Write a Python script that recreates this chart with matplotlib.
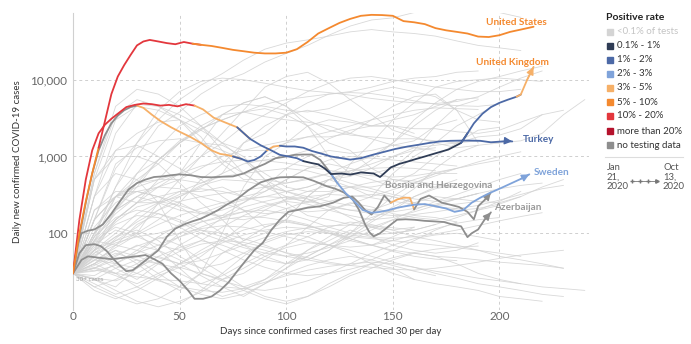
import numpy as np
import matplotlib
matplotlib.use("Agg")
import matplotlib.pyplot as plt
from matplotlib.patches import Rectangle
from matplotlib.lines import Line2D

plt.rcParams["font.family"] = ["Lato", "DejaVu Sans"]

# ---------------------------------------------------------------- categories
rate_labels = ["<0.1% of tests", "0.1% - 1%", "1% - 2%", "2% - 3%", "3% - 5%",
               "5% - 10%", "10% - 20%", "more than 20%", "no testing data"]
rate_colors = ["#d4d4d4", "#2f3c55", "#4c69a6", "#7fa3da", "#f6b068",
               "#f4892f", "#e3373d", "#b5122c", "#8e8e8e"]

# ---------------------------------------------------------------- highlighted countries
us_days = [0, 3, 6, 9, 12, 15, 18, 21, 24, 27, 30, 33, 36, 40, 44, 48, 52, 56, 60, 65,
           70, 75, 80, 85, 90, 95, 100, 105, 110, 115, 120, 125, 130, 135, 140, 145, 150,
           155, 160, 165, 170, 175, 180, 185, 190, 195, 200, 205, 210, 216]
us_cases = [30, 100, 260, 600, 1300, 2900, 6500, 11000, 15500, 21000, 28000, 31500, 33000,
            31500, 30000, 29000, 31000, 29500, 28500, 27500, 26000, 24500, 23500, 22500,
            22000, 22000, 22500, 25000, 31000, 40000, 47000, 55000, 62000, 68000, 70000,
            69500, 68000, 58000, 56000, 53000, 47000, 44000, 42000, 40000, 36500, 36000,
            38000, 42000, 45000, 49000]
us_rate = [(0, 5), (12, 6), (57, 5)]

uk_days = [0, 3, 6, 9, 12, 15, 18, 21, 25, 29, 33, 37, 41, 45, 49, 53, 57, 61, 66, 71, 77,
           83, 88, 93, 97, 101, 105, 108, 112, 115, 118, 121, 126, 130, 135, 141, 144, 147,
           149, 153, 157, 161, 165, 170, 176, 182, 185, 188, 192, 196, 200, 204, 208, 210,
           213, 216]
uk_cases = [30, 150, 500, 1200, 2000, 2600, 3100, 3600, 4400, 4700, 4900, 4800, 4600, 4700,
            4500, 4800, 4600, 4100, 3200, 2800, 2400, 1700, 1400, 1200, 1050, 1000, 950, 870,
            820, 790, 700, 590, 600, 580, 620, 600, 540, 640, 720, 800, 860, 930, 1000, 1100,
            1230, 1500, 2000, 2700, 3600, 4400, 5000, 5500, 6000, 6400, 10000, 14700]
uk_rate = [(0, 6), (57, 4), (80, 2), (108, 1), (183, 2), (209, 4)]

turkey_days = [0, 3, 6, 9, 12, 15, 18, 21, 24, 27, 30, 33, 37, 41, 46, 50, 55, 60, 65, 69,
               72, 75, 79, 82, 85, 88, 91, 94, 97, 100, 104, 108, 112, 116, 121, 126, 130,
               135, 141, 146, 151, 157, 162, 167, 172, 177, 182, 187, 191, 196, 200, 204, 206]
turkey_cases = [30, 90, 250, 600, 1200, 1900, 2700, 3400, 4000, 4400, 4600, 4300, 3500, 2900,
                2400, 2100, 1800, 1500, 1200, 1080, 1050, 1000, 930, 860, 900, 1000, 1200,
                1350, 1380, 1350, 1350, 1300, 1180, 1100, 1000, 950, 910, 950, 1060, 1150,
                1250, 1350, 1420, 1500, 1570, 1600, 1610, 1610, 1600, 1530, 1560, 1590, 1570]
turkey_rate = [(0, 8), (30, 4), (77, 2), (91, 4), (97, 2)]

sweden_days = [0, 2, 4, 7, 10, 14, 18, 22, 26, 30, 34, 38, 42, 46, 50, 55, 60, 65, 70, 75,
               80, 85, 90, 95, 100, 104, 108, 112, 116, 120, 124, 128, 132, 136, 140, 144,
               148, 152, 156, 160, 165, 170, 175, 179, 183, 187, 191, 195, 200, 205, 210, 214]
sweden_cases = [30, 70, 100, 108, 112, 130, 180, 260, 370, 450, 500, 540, 550, 570, 585, 570,
                540, 535, 545, 550, 600, 700, 800, 950, 1000, 1050, 1060, 1060, 900, 650, 450,
                330, 260, 200, 185, 190, 200, 215, 225, 235, 240, 225, 210, 190, 200, 250,
                290, 330, 380, 440, 510, 585]
sweden_rate = [(0, 8), (121, 3)]

bosnia_days = [0, 4, 7, 12, 18, 24, 30, 34, 38, 42, 46, 50, 54, 57, 61, 65, 69, 73, 77, 81,
               85, 89, 93, 97, 101, 105, 110, 116, 122, 127, 131, 134, 137, 140, 143, 146,
               149, 152, 155, 158, 160, 163, 167, 170, 173, 177, 181, 185, 188, 190, 193, 196]
bosnia_cases = [30, 45, 50, 48, 46, 48, 50, 52, 46, 40, 30, 24, 18, 14, 14, 15, 18, 23, 32, 44,
                60, 75, 110, 150, 190, 200, 215, 225, 250, 290, 300, 250, 200, 175, 220, 310,
                250, 275, 290, 290, 205, 280, 310, 280, 250, 235, 220, 190, 152, 225, 270, 340]
bosnia_rate = [(0, 8), (149, 4), (160, 8)]

azer_days = [0, 3, 6, 10, 13, 16, 19, 22, 25, 28, 32, 36, 40, 44, 48, 52, 56, 60, 64, 68,
             72, 77, 82, 88, 93, 97, 102, 108, 113, 119, 123, 127, 131, 134, 137, 139, 141,
             144, 148, 152, 156, 160, 165, 169, 174, 178, 182, 185, 187, 190, 193, 196]
azer_cases = [30, 55, 70, 72, 68, 58, 46, 38, 32, 33, 40, 49, 60, 90, 115, 130, 143, 155, 175,
              200, 235, 280, 360, 460, 510, 535, 540, 535, 480, 410, 380, 340, 280, 205, 130,
              103, 91, 100, 123, 150, 152, 150, 145, 143, 140, 130, 123, 89, 100, 112, 150, 187]
azer_rate = [(0, 8)]

# ---------------------------------------------------------------- all other countries (every 10 days)
other_days = list(range(0, 250, 10))
other_countries = [
    [30, 90, 400, 1000, 2500, 3800, 6500, 9500, 12000, 17000, 22000, 28000, 38000, 50000, 60000,
     64000, 75000, 90000, 93000, 85000, 75000, 65000],
    [30, 150, 700, 1500, 3000, 5500, 8500, 12000, 18000, 25000, 30000, 33000, 37000, 42000,
     45000, 42000, 40000, 37000, 32000, 28000, 26000, 24000],
    [30, 100, 400, 1500, 4000, 7000, 9500, 10500, 10000, 9000, 8000, 7200, 6800, 6300, 5700,
     5300, 5000, 4900, 5200, 6000, 8000, 10500, 13000],
    [30, 80, 200, 450, 900, 1600, 2300, 3000, 3800, 4800, 5500, 6000, 6500, 6800, 6600, 6000,
     5300, 4800, 4600, 4500, 4800],
    [30, 60, 200, 600, 1300, 2500, 3500, 4500, 4800, 4500, 4000, 3800, 4200, 5500, 7000, 8000,
     7000, 6000, 4000, 3000, 2800],
    [30, 300, 2000, 4800, 4500, 3500, 2500, 1500, 900, 500, 350, 280, 220, 200, 200, 250, 380,
     700, 1100, 1400, 1500, 1600, 2000, 3500, 5500],
    [30, 600, 4500, 7500, 6500, 4500, 2500, 1200, 600, 400, 300, 250, 300, 800, 1500, 3000,
     5000, 8000, 9500, 10000, 10500, 10000, 9500],
    [30, 600, 3500, 5500, 4500, 3000, 1500, 900, 600, 400, 350, 400, 500, 550, 700, 1000, 1300,
     1400, 1500, 1800, 1900, 2300, 3500],
    [30, 500, 3000, 4500, 4000, 3000, 1800, 800, 500, 500, 450, 500, 600, 800, 1000, 1500, 3000,
     5000, 7500, 9500, 11000, 13000, 15000],
    [30, 500, 1200, 2000, 2800, 3000, 2200, 1500, 1200, 1200, 1500, 2500, 3000, 2800, 2500,
     2500, 2300, 2300, 2100, 2000, 2200, 2800, 3500, 4000],
    [30, 60, 150, 250, 400, 600, 1000, 1500, 2500, 3500, 5000, 7000, 9000, 10500, 11000, 10000,
     9000, 8000, 7500, 7000, 7000, 7500],
    [30, 60, 80, 100, 150, 250, 500, 800, 1500, 2500, 3500, 5000, 6500, 7000, 8000, 9500, 10500,
     11000, 12500, 13000],
    [30, 80, 70, 100, 250, 500, 1000, 2000, 4000, 8000, 11000, 12500, 9000, 5500, 3500, 2200,
     1800, 1500, 1300, 1400],
    [30, 150, 300, 400, 500, 600, 1500, 3500, 5000, 6000, 4500, 3000, 2200, 1900, 1800, 1700,
     1700, 1600, 1500, 1600, 1500],
    [30, 150, 800, 1300, 1600, 1700, 1500, 1200, 900, 600, 400, 350, 350, 400, 400, 450, 600,
     1000, 1500, 2200, 2400],
    [30, 300, 1200, 1400, 1000, 700, 500, 300, 200, 120, 150, 300, 500, 400, 300, 600, 1000,
     1500, 2500, 3500, 5000],
    [30, 500, 1000, 1000, 800, 450, 250, 150, 80, 100, 150, 300, 500, 600, 900, 1500, 2500,
     4000, 5500],
    [30, 300, 600, 500, 250, 80, 30, 100, 400, 1000, 1500, 1800, 1800, 2000, 3000, 4500, 6000,
     6500, 4000, 1500],
    [30, 100, 200, 400, 900, 1500, 2300, 3000, 3800, 4200, 3500, 2500, 1500, 1200, 700, 500,
     450, 400, 400],
    [30, 150, 300, 500, 800, 1500, 2200, 3500, 5000, 6000, 4500, 2500, 1000, 600, 500, 400, 500,
     600, 600],
    [30, 80, 300, 600, 900, 1500, 2500, 3500, 3800, 3300, 3000, 2800, 2500, 2000, 1700, 1400,
     1300, 1200],
    [30, 200, 300, 250, 250, 300, 400, 600, 1500, 2000, 3500, 4000, 3500, 3000, 2500, 2500, 2000],
    [30, 100, 200, 300, 400, 500, 700, 1000, 1200, 1400, 1600, 1800, 2100, 2500, 3000, 3500,
     4000, 4300, 4200, 4100],
    [30, 100, 300, 450, 500, 500, 450, 600, 800, 900, 1000, 1200, 1700, 2200, 2500, 3000, 3500,
     4500, 5500, 5800],
    [30, 150, 300, 350, 300, 250, 180, 170, 250, 400, 700, 1000, 1200, 1100, 1200, 1400, 1600,
     2500, 3000],
    [30, 200, 350, 350, 300, 350, 350, 400, 300, 350, 500, 700, 800, 700, 600, 700, 1200, 2500,
     4500, 5500],
    [30, 80, 150, 250, 500, 1000, 1500, 1400, 1000, 500, 250, 170, 150, 130, 120, 110, 120],
    [30, 45, 60, 40, 25, 18, 30, 55, 80, 120, 150, 130, 100, 80, 70, 90, 120],
    [30, 25, 20, 35, 50, 40, 28, 20, 15, 22, 35, 60, 80, 110, 90, 70, 60, 55, 60, 75],
    [30, 60, 90, 110, 80, 50, 35, 25, 30, 45, 70, 120, 200, 250, 220, 180, 160, 150, 170, 200, 230],
    [30, 40, 70, 130, 180, 150, 110, 90, 70, 60, 50, 45, 60, 90, 140, 200, 300, 400, 500],
    [30, 20, 15, 12, 14, 20, 30, 25, 18, 14, 12, 15, 22, 30, 40, 35, 25],
    [30, 50, 35, 25, 40, 70, 100, 160, 220, 260, 300, 280, 220, 160, 120, 100, 110, 130, 160,
     200, 260, 350],
    [30, 70, 150, 250, 300, 220, 150, 100, 70, 50, 40, 45, 60, 100, 180, 300, 450, 600, 700,
     800, 900],
    [30, 35, 45, 55, 70, 90, 110, 100, 85, 70, 55, 45, 40, 38, 45, 60, 80, 110, 140],
    [30, 80, 120, 100, 60, 35, 20, 15, 18, 25, 40, 60, 90, 130, 160, 200, 250, 300, 280, 260,
     250, 300, 400, 500],
    [30, 25, 35, 45, 40, 30, 22, 28, 40, 55, 70, 90, 120, 140, 130, 110, 90, 80, 70, 60, 50, 45,
     40, 35],
    [30, 120, 250, 350, 400, 380, 300, 250, 200, 180, 190, 220, 260, 300, 320, 300, 250, 220,
     200, 210, 240, 300],
    [30, 40, 30, 20, 15, 12, 18, 30, 50, 80, 100, 90, 70, 55, 40, 30, 25, 22, 20, 18, 15, 14, 13],
    [30, 60, 100, 180, 250, 350, 450, 550, 600, 650, 700, 650, 550, 450, 380, 320, 280, 260,
     280, 330],
    [30, 45, 40, 55, 90, 130, 180, 230, 270, 300, 350, 400, 500, 650, 800, 1000, 1200, 1300],
    [30, 35, 28, 22, 30, 40, 55, 75, 95, 110, 120, 115, 100, 90, 85, 80, 75, 70, 65, 60, 55, 50],
    [30, 90, 160, 200, 180, 140, 100, 80, 65, 55, 50, 55, 65, 80, 110, 150, 200, 260, 320, 400,
     500, 600],
    [30, 28, 40, 60, 90, 70, 45, 30, 20, 15, 13, 15, 20, 28, 35, 45, 55, 50, 40, 30, 25, 22],
    [30, 50, 80, 120, 200, 300, 420, 500, 480, 420, 350, 300, 260, 230, 200, 190, 210, 240, 280, 330],
    [30, 20, 25, 35, 50, 65, 80, 70, 55, 45, 40, 50, 70, 100, 150, 220, 300, 380, 430],
    [30, 100, 200, 300, 250, 200, 180, 200, 250, 350, 500, 700, 900, 1000, 950, 900, 850, 800, 750],
    [30, 40, 60, 50, 40, 35, 50, 80, 130, 200, 280, 350, 420, 400, 350, 300, 250, 220, 210, 230,
     270, 320, 380, 420],
    [30, 33, 30, 27, 25, 24, 22, 20, 19, 18, 20, 24, 30, 40, 55, 70, 85, 95, 100, 90, 80],
    [30, 55, 75, 90, 100, 120, 140, 160, 190, 230, 270, 300, 320, 310, 290, 260, 240, 230, 240, 260],
    [30, 25, 18, 13, 11, 13, 17, 25, 35, 50, 65, 75, 70, 60, 50, 42, 36, 30, 26, 22, 20, 18, 16, 15],
    [30, 60, 40, 35, 60, 100, 140, 170, 190, 200, 180, 150, 120, 100, 95, 100, 110, 130],
    [30, 40, 55, 45, 30, 20, 16, 14, 16, 22, 30, 38, 45, 50, 45, 38, 32, 28],
    [30, 70, 110, 90, 70, 60, 80, 120, 170, 220, 260, 240, 200, 170, 150, 160, 190, 230, 280, 330,
     380, 420, 450],
    [30, 22, 16, 20, 28, 36, 30, 24, 20, 25, 35, 50, 70, 90, 120, 150, 170, 160, 140],
    [30, 55, 90, 140, 200, 260, 300, 330, 360, 400, 450, 520, 600, 650, 700, 720, 700, 650],
    [30, 35, 50, 70, 60, 45, 35, 40, 55, 75, 95, 105, 100, 85, 70, 60, 55, 50, 48, 45, 42, 40,
     38, 35],
    [30, 65, 140, 220, 260, 230, 190, 160, 150, 170, 210, 260, 330, 400, 460, 500, 480, 430, 400],
    [30, 38, 52, 68, 85, 100, 115, 125, 120, 105, 90, 78, 70, 66, 70, 80, 95, 115, 135, 150, 160],
    [30, 18, 14, 18, 26, 40, 60, 85, 110, 130, 140, 125, 105, 85, 70, 58, 50, 46, 44],
    [30, 48, 85, 150, 240, 320, 380, 350, 300, 250, 210, 190, 200, 240, 300, 370, 450, 560, 700,
     850, 1000, 1150],
    [30, 26, 24, 30, 42, 58, 72, 80, 76, 66, 56, 48, 42, 38, 36, 34, 33, 35, 38, 42, 47, 52, 56, 60],
    [30, 75, 130, 170, 160, 120, 85, 60, 45, 36, 30, 28, 30, 34, 40, 48, 56, 62, 66, 68],
    [30, 44, 65, 95, 130, 170, 210, 250, 280, 300, 290, 260, 230, 200, 180, 170, 175, 190, 210],
    [30, 32, 38, 30, 24, 20, 18, 17, 19, 23, 28, 33, 37, 40, 42, 40, 36, 32, 29, 26, 24, 22, 20,
     19, 18],
    [30, 90, 180, 300, 450, 600, 750, 850, 900, 880, 820, 740, 660, 600, 560, 540, 560, 620, 700],
    [30, 52, 70, 60, 48, 40, 44, 55, 70, 88, 105, 118, 125, 128, 125, 118, 110],
    [30, 36, 30, 40, 62, 90, 120, 150, 165, 160, 145, 125, 108, 95, 88, 86, 90, 98, 110, 126, 145,
     165, 185],
]

# ---------------------------------------------------------------- figure
W, H = 691, 344
fig = plt.figure(figsize=(W / 100, H / 100), dpi=100)


def fx(px):
    return px / W


def fy(py):
    return 1 - py / H


ax = fig.add_axes([fx(73), fy(310), fx(589) - fx(73), fy(13) - fy(310)])
ax.set_yscale("log")
ax.set_xlim(0, 242)
ax.set_ylim(10, 74000)

for s in ["top", "right", "bottom"]:
    ax.spines[s].set_visible(False)
ax.spines["left"].set_color("#d0d0d0")
ax.spines["left"].set_linewidth(0.8)

ax.set_yticks([100, 1000, 10000])
ax.set_yticklabels(["100", "1,000", "10,000"])
ax.yaxis.set_minor_locator(matplotlib.ticker.NullLocator())
ax.set_xticks([0, 50, 100, 150, 200])
ax.tick_params(length=0, labelsize=8.5, labelcolor="#666666", pad=4)
ax.tick_params(axis="x", pad=1)

for v in [100, 1000, 10000]:
    ax.axhline(v, color="#cfcfcf", lw=0.7, ls=(0, (3, 3)), zorder=0)
for d in [50, 100, 150, 200]:
    ax.axvline(d, color="#cfcfcf", lw=0.7, ls=(0, (3, 3)), zorder=0)

ax.set_ylabel("Daily new confirmed COVID-19 cases", fontsize=7, color="#333333", labelpad=6)
ax.set_xlabel("Days since confirmed cases first reached 30 per day", fontsize=7,
              color="#333333", labelpad=3)

# background trajectories
for vals in other_countries:
    ax.plot(other_days[:len(vals)], vals, color="#d2d2d2", lw=0.6, alpha=0.85, zorder=1)


def draw_country(days, cases, rate, z):
    days = np.asarray(days, float)
    cases = np.asarray(cases, float)
    for k, (start, cat) in enumerate(rate):
        end = rate[k + 1][0] if k + 1 < len(rate) else days[-1] + 1
        i0 = int(np.searchsorted(days, start))
        i1 = min(int(np.searchsorted(days, end)), len(days) - 1)
        if i0 > 0 and days[i0] > start:
            i0 -= 1
        ax.plot(days[i0:i1 + 1], cases[i0:i1 + 1], color=rate_colors[cat], lw=1.3, zorder=z,
                solid_capstyle="round", solid_joinstyle="round")
    return rate_colors[rate[-1][1]]


def end_arrow(days, cases, color, z):
    ax.annotate("", xy=(days[-1], cases[-1]), xytext=(days[-2], cases[-2]),
                arrowprops=dict(arrowstyle="-|>,head_length=0.45,head_width=0.22",
                                color=color, lw=1.0, shrinkA=0, shrinkB=0), zorder=z)


c = draw_country(azer_days, azer_cases, azer_rate, 3)
end_arrow(azer_days, azer_cases, c, 3)
c = draw_country(bosnia_days, bosnia_cases, bosnia_rate, 3)
end_arrow(bosnia_days, bosnia_cases, c, 3)
c = draw_country(sweden_days, sweden_cases, sweden_rate, 4)
end_arrow(sweden_days, sweden_cases, c, 4)
c = draw_country(turkey_days, turkey_cases, turkey_rate, 5)
end_arrow(turkey_days, turkey_cases, c, 5)
c = draw_country(uk_days, uk_cases, uk_rate, 6)
end_arrow(uk_days, uk_cases, c, 6)
draw_country(us_days, us_cases, us_rate, 6)

lab = dict(fontsize=7.2, fontweight="bold", zorder=8)
ax.text(208, 56000, "United States", color="#f4892f", ha="center", va="center", **lab)
ax.text(206, 17000, "United Kingdom", color="#f4892f", ha="center", va="center", **lab)
ax.text(211, 1660, "Turkey", color="#4c69a6", ha="left", va="center", **lab)
ax.text(216, 620, "Sweden", color="#7fa3da", ha="left", va="center", **lab)
ax.text(171.5, 420, "Bosnia and Herzegovina", color="#9a9a9a", ha="center", va="center", **lab)
ax.text(197.5, 218, "Azerbaijan", color="#9a9a9a", ha="left", va="center", **lab)
ax.text(1.5, 25, "30+ cases", color="#a0a0a0", fontsize=4.5, ha="left", va="center", zorder=8)

# ---------------------------------------------------------------- legend
fig.text(fx(606), fy(17), "Positive rate", fontsize=7.5, fontweight="bold",
         color="#222222", ha="left", va="center")
item_y = [32, 46, 60, 74, 88, 102, 116, 131, 145]
for yy, lbl, col in zip(item_y, rate_labels, rate_colors):
    fig.add_artist(Rectangle((fx(607), fy(yy + 3)), 6 / W, 6 / H, color=col,
                             transform=fig.transFigure))
    fig.text(fx(617), fy(yy), lbl, fontsize=7, ha="left", va="center",
             color="#c4c4c4" if lbl.startswith("<") else "#333333")
fig.add_artist(Line2D([fx(605), fx(683)], [fy(157), fy(157)], color="#dddddd", lw=0.8,
                      transform=fig.transFigure))
fig.text(fx(607), fy(163), "Jan\n21,\n2020", fontsize=6.8, color="#555555",
         ha="left", va="top", linespacing=1.05)
fig.text(fx(663), fy(163), "Oct\n13,\n2020", fontsize=6.8, color="#555555",
         ha="left", va="top", linespacing=1.05)
fig.add_artist(Line2D([fx(632), fx(656)], [fy(181), fy(181)], color="#777777", lw=0.6,
                      transform=fig.transFigure))
fig.add_artist(Line2D([fx(632), fx(640), fx(648)], [fy(181)] * 3, color="#777777",
                      lw=0, marker="+", markersize=2.5, transform=fig.transFigure))
fig.add_artist(Line2D([fx(657)], [fy(181)], color="#777777", lw=0, marker=">",
                      markersize=2.5, transform=fig.transFigure))

fig.savefig("out.png", dpi=100)
